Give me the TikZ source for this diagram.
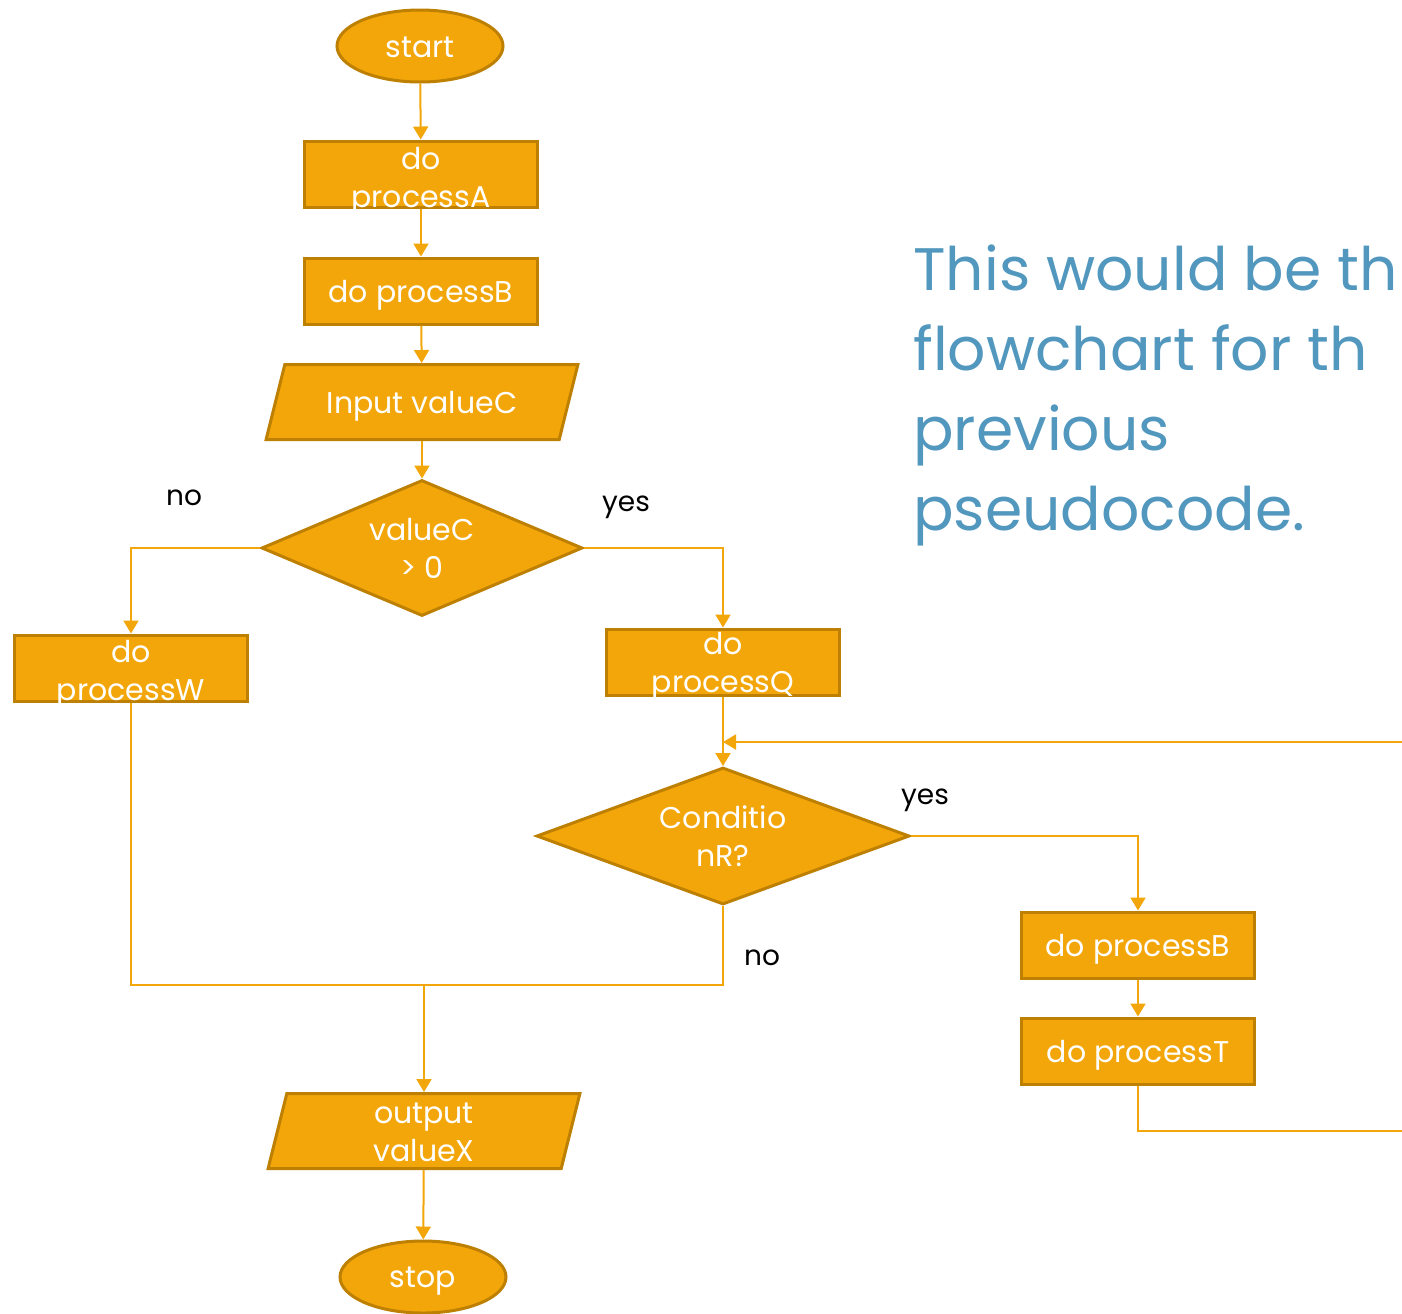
\documentclass[tikz,border=0pt]{standalone}
\usepackage{fontspec}
\setmainfont{Poppins}
\usetikzlibrary{arrows.meta,shapes.geometric}
\definecolor{ambar}{RGB}{243,166,9}
\definecolor{ambarosc}{RGB}{189,128,2}
\definecolor{azulc}{RGB}{82,151,190}
\tikzset{
  txt/.style={text=white, align=center, font=\fontsize{15}{19}\selectfont, inner sep=0pt},
  proc/.style={draw=ambarosc, line width=1.5pt, fill=ambar, rectangle, minimum width=116.5pt, minimum height=33pt, inner sep=0pt},
  term/.style={draw=ambarosc, line width=1.5pt, fill=ambar, ellipse, minimum width=83pt, minimum height=36pt, inner sep=0pt},
  es/.style={draw=ambarosc, line width=1.5pt, fill=ambar, trapezium, trapezium left angle=76, trapezium right angle=104, inner xsep=68.6pt, inner ysep=18.75pt},
  deci/.style={draw=ambarosc, line width=1.5pt, fill=ambar, diamond, inner sep=1pt},
  fl/.style={-{Triangle[length=6.5pt,width=7.5pt]}, line width=1pt, ambar},
  ln/.style={line width=1pt, ambar},
  rot/.style={font=\fontsize{14}{16}\selectfont, text=black, inner sep=0pt},
}

\begin{document}
\begin{tikzpicture}[x=0.5pt,y=-0.5pt]
  \useasboundingbox (0,0) rectangle (1402,1313);
  \clip (0,0) rectangle (1402,1313);
  % main column
  \node[term, label={[txt,yshift=-0.5pt]center:start}] (start) at (420,46) {};
  \node[proc, label={[txt,yshift=-3.5pt]center:{do\\processA}}] (pA) at (421,174) {};
  \node[proc, label={[txt,yshift=-2pt]center:do processB}] (pB) at (421,291) {};
  \node[es, label={[txt,yshift=-2pt]center:Input valueC}] (inC) at (422,402) {};
  \node[deci, minimum width=160.5pt, minimum height=68pt, label={[txt]center:{valueC\\> 0}}] (dec1) at (422,548) {};
  \node[proc, label={[txt,yshift=-3pt]center:{do\\processW}}] (pW) at (131,668) {};
  \node[proc, label={[txt,yshift=-2pt]center:{do\\processQ}}] (pQ) at (723,662) {};
  \node[deci, minimum width=186.5pt, minimum height=68.5pt, label={[txt]center:{Conditio\\nR?}}] (dec2) at (723,836) {};
  \node[proc, label={[txt,yshift=-2pt]center:do processB}] (pB2) at (1138,945) {};
  \node[proc, label={[txt,yshift=-2pt]center:do processT}] (pT) at (1138,1051) {};
  \node[es, label={[txt,yshift=-0.5pt]center:{output\\valueX}}] (outX) at (424,1131) {};
  \node[term, label={[txt,yshift=-2pt]center:stop}] (stop) at (423,1277) {};
  % branch labels
  \node[rot] (no1) at (184,498) {no};
  \node[rot] (yes1) at (626,507) {yes};
  \node[rot] (yes2) at (925,800) {yes};
  \node[rot] (no2) at (762,958) {no};
  \node[anchor=north west, align=left, text=azulc, font=\fontsize{30}{40}\selectfont, inner sep=0pt] (nota) at (913,244)
    {This would be th\\flowchart for th\\previous\\pseudocode.};
  \coordinate (loopin) at (1402,742);
  \coordinate (loopout) at (1402,1131);
  \coordinate (merge) at (424,985);
  \draw[fl] (start) -- (pA);
  \draw[fl] (pA) -- (pB);
  \draw[fl] (pB) -- (inC);
  \draw[fl] (inC) -- (dec1);
  \draw[fl] (dec1.west) -| (pW.north);
  \draw[fl] (dec1.east) -| (pQ.north);
  \draw[fl] (pQ) -- (dec2);
  \draw[fl] (loopin) -- (loopin -| dec2.north);
  \draw[fl] (dec2.east) -| (pB2.north);
  \draw[fl] (pB2) -- (pT);
  \draw[ln] (pT.south) |- (loopout);
  \draw[ln] (pW.south) |- (merge) -| (dec2.south);
  \draw[fl] (merge) -- (outX);
  \draw[fl] (outX) -- (stop);
\end{tikzpicture}
\end{document}
